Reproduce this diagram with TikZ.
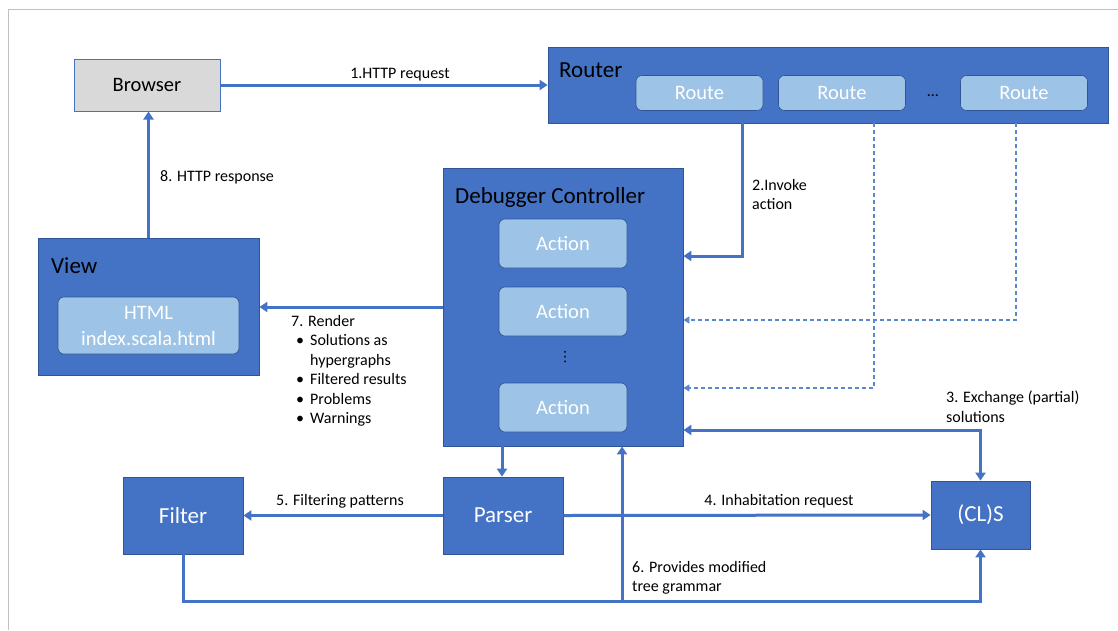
\documentclass[tikz,border=0pt]{standalone}
\usepackage{fontspec}
\setmainfont{Carlito}
\newfontfamily\dejavu{DejaVu Sans}
\usetikzlibrary{arrows.meta,calc}
\definecolor{mblue}{HTML}{4472C4}
\definecolor{lblue}{HTML}{9DC3E6}
\definecolor{bord}{HTML}{2F5597}
\definecolor{gbox}{HTML}{D9D9D9}
\definecolor{framec}{HTML}{C0C0C0}
\definecolor{dashc}{HTML}{5B87D0}
\begin{document}
\begin{tikzpicture}[x=1pt,y=-1pt,
  bluebox/.style={draw=bord, line width=0.8pt, fill=mblue, inner sep=0pt},
  lightbox/.style={draw=bord, line width=0.6pt, fill=lblue, rounded corners=6pt, inner sep=0pt, text=white, font=\fontsize{20.5}{24}\selectfont},
  greybox/.style={draw=mblue, line width=1pt, fill=gbox, inner sep=0pt, font=\fontsize{20.5}{24}\selectfont},
  title/.style={inner sep=0pt, anchor=west, font=\fontsize{23}{27}\selectfont},
  wlabel/.style={text=white, font=\fontsize{23}{27}\selectfont},
  lbl/.style={inner sep=0pt, font=\fontsize{16}{19.5}\selectfont, align=left},
  arr/.style={draw=mblue, line width=3pt, -{Triangle[width=10pt,length=8pt]}},
  darr/.style={draw=dashc, line width=1.3pt, dash pattern=on 4pt off 3pt, -{Triangle[width=7pt,length=6pt]}}
]
\useasboundingbox (0,0) rectangle (1118,630);
\fill[white] (0,0) rectangle (1118,630);
\draw[framec, line width=1pt] (8,630) -- (8,9) -- (1118,9);

% Browser
\node[greybox, minimum width=146pt, minimum height=52pt] (browser) at (147,85) {Browser};

% Router
\node[bluebox, minimum width=560pt, minimum height=76pt] (router) at (828,85) {};
\node[title] (routerlbl) at (559,70) {Router};
\node[lightbox, minimum width=127pt, minimum height=35pt] (route1) at (699.5,93) {Route};
\node[lightbox, minimum width=127pt, minimum height=35pt] (route2) at (842,93) {Route};
\node[inner sep=0pt, font=\fontsize{16}{20}\selectfont] (rdots) at (933,96) {\dots};
\node[lightbox, minimum width=127pt, minimum height=35pt] (route3) at (1024,93) {Route};

% Debugger Controller
\node[bluebox, minimum width=240pt, minimum height=278pt] (dc) at (563,307) {};
\node[title] (dclbl) at (455,197) {Debugger Controller};
\node[lightbox, minimum width=128pt, minimum height=49pt] (act1) at (563,243.5) {Action};
\node[lightbox, minimum width=128pt, minimum height=49pt] (act2) at (563,311.5) {Action};
\node[inner sep=0pt, font=\dejavu\fontsize{14}{16}\selectfont] (vd) at (565,357) {⋮};
\node[lightbox, minimum width=128pt, minimum height=49pt] (act3) at (563,407.5) {Action};

% View
\node[bluebox, minimum width=221pt, minimum height=137pt] (view) at (148.5,306.5) {};
\node[title] (viewlbl) at (51,266) {View};
\node[lightbox, minimum width=181pt, minimum height=57pt, align=center, font=\fontsize{20.5}{26}\selectfont] (html) at (148.5,325.5) {HTML\\index.scala.html};

% Parser, Filter, CLS
\node[bluebox, wlabel, minimum width=120pt, minimum height=77pt] (parser) at (503,515.5) {Parser};
\node[bluebox, wlabel, minimum width=120pt, minimum height=77pt] (filter) at (183,515.5) {Filter};
\node[bluebox, wlabel, minimum width=99pt, minimum height=68pt] (cls) at (980.5,515) {(CL)S};

% Connectors
\draw[arr] (browser.east) -- (router.west);
\node[lbl, anchor=base] (l1) at (400,78) {1.HTTP request};

\draw[arr] (view.north) -- (view.north |- browser.south);
\node[lbl, anchor=base west] (l8) at (160,181) {8. HTTP response};

\draw[arr] (router.south -| 742,0) |- (dc.east |- 0,256);
\node[lbl, anchor=north west] (l2) at (752,179) {2.Invoke\\action};

\draw[darr] (router.south -| 1016,0) |- (dc.east |- 0,320);
\draw[darr] (router.south -| 874,0) |- (dc.east |- 0,388);

\draw[arr, {Triangle[width=10pt,length=8pt]}-{Triangle[width=10pt,length=8pt]}] (dc.east |- 0,430) -| (cls.north);
\node[lbl, anchor=north west] (l3) at (946,391) {3. Exchange (partial)\\solutions};

\draw[arr] (dc.west |- 0,307) -- (view.east |- 0,307);
\node[lbl, anchor=north west] (l7) at (291,315) {7. Render\\
\makebox[5pt][l]{}\makebox[14pt][l]{\textbullet}Solutions as\\
\makebox[19pt][l]{}hypergraphs\\
\makebox[5pt][l]{}\makebox[14pt][l]{\textbullet}Filtered results\\
\makebox[5pt][l]{}\makebox[14pt][l]{\textbullet}Problems\\
\makebox[5pt][l]{}\makebox[14pt][l]{\textbullet}Warnings};

\draw[arr] (dc.south -| 502,0) -- (parser.north -| 502,0);

\draw[arr] (parser.west) -- (filter.east);
\node[lbl, anchor=base] (l5) at (340,505) {5. Filtering patterns};

\draw[arr] (parser.east) -- (cls.west);
\node[lbl, anchor=base] (l4) at (779,505) {4. Inhabitation request};

\draw[arr] (filter.south) -- (filter.south |- 0,601) -| (cls.south);
\coordinate (j6) at (622,601);
\draw[arr] (j6) -- (j6 |- dc.south);
\node[lbl, anchor=north west] (l6) at (632,561) {6. Provides modified\\tree grammar};

\end{tikzpicture}
\end{document}
